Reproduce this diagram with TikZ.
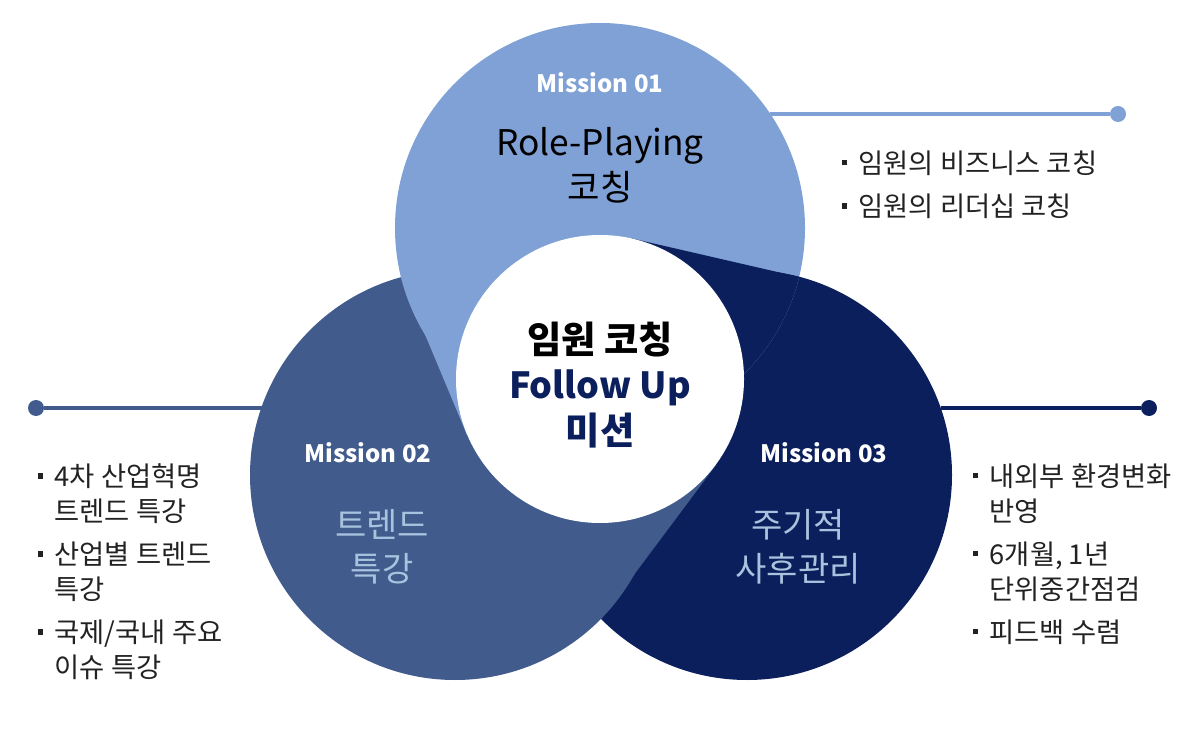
\documentclass[tikz,border=0pt]{standalone}
\usepackage{fontspec}
\setmainfont{Noto Sans CJK KR}
\usepackage{xcolor}
\usepackage{tikz}
\usetikzlibrary{positioning}

\definecolor{lightblue}{HTML}{7FA1D5}
\definecolor{midblue}{HTML}{405B8C}
\definecolor{navyblue}{HTML}{0B1F5C}
\definecolor{sublabel}{HTML}{A9C2DE}
\definecolor{bodytext}{HTML}{222222}

\newcommand{\bul}{\makebox[12.5pt][l]{\rule[0.3em]{4pt}{4pt}}}
\newcommand{\ind}{\hspace*{12.5pt}}

\begin{document}
\begin{tikzpicture}[
    x=0.75pt, y=-0.75pt,
    every node/.style={inner sep=0pt, outer sep=0pt},
    mission/.style={font=\fontsize{18}{22}\selectfont\bfseries, text=white},
    title/.style={font=\fontsize{26.5}{34}\selectfont, align=center, text=black},
    core/.style={font=\fontsize{28}{34}\selectfont\bfseries, align=center},
    sub/.style={font=\fontsize{25.5}{33}\selectfont, align=center, text=sublabel},
    blist/.style={font=\fontsize{20.5}{26}\selectfont, align=left, text=bodytext, anchor=north west},
    lead/.style={line width=2.3pt},
    dot/.style={circle, minimum size=12pt}
]
\useasboundingbox (0,0) rectangle (1201,730);

% centres, outer meeting points, tangent points on the core
\coordinate (ctop)   at (600,228);
\coordinate (cleft)  at (455,475);
\coordinate (cright) at (747,475);
\coordinate (ccore)  at (600,379);
\coordinate (xtl) at (401,277);  \coordinate (ttl) at (467,435);
\coordinate (xtr) at (799,277);  \coordinate (ttr) at (632,238.5);
\coordinate (xlr) at (601,619);  \coordinate (tlr) at (716,465);

\fill[navyblue]  (cright) circle[radius=205];
\fill[midblue]   (cleft)  circle[radius=205];
\fill[lightblue] (ctop)   circle[radius=205];
\begin{scope}
  \clip (ctop) circle[radius=205];
  \fill[navyblue] (cright) circle[radius=205];
\end{scope}
\fill[lightblue] (xtl) -- (ttl) -- (ccore) -- cycle;
\fill[navyblue]  (xtr) -- (ttr) -- (ccore) -- cycle;
\fill[midblue]   (xlr) -- (tlr) -- (ccore) -- cycle;
\fill[white] (ccore) circle[radius=144];

% callouts
\coordinate (etop)   at (770,114);
\coordinate (eleft)  at (262,408);
\coordinate (eright) at (941,408);
\node[dot, fill=lightblue] (dtop)   at (1118,114) {};
\node[dot, fill=midblue]   (dleft)  at (36,408)   {};
\node[dot, fill=navyblue]  (dright) at (1149,408) {};
\draw[lead, lightblue] (etop)   -- (dtop);
\draw[lead, midblue]   (eleft)  -- (dleft);
\draw[lead, navyblue]  (eright) -- (dright);

\node[mission] (m1) at (600,83)  {Mission 01};
\node[mission] (m2) at (368,453) {Mission 02};
\node[mission] (m3) at (824,453) {Mission 03};
\node[title] (name1) at (600,165) {Role-Playing\\코칭};
\node[sub]   (name2) at (382,547) {트렌드\\특강};
\node[sub]   (name3) at (798,547) {주기적\\사후관리};
\node[core]  (goal)  at (600,385)
  {임원 코칭\\{\color{navyblue}\fontsize{27}{34}\selectfont Follow Up}\\{\color{navyblue}미션}};

\node[blist] (list1) at (842,151)
  {\bul 임원의 비즈니스 코칭\\[6.5pt]\bul 임원의 리더십 코칭};
\node[blist] (list2) at (38,464)
  {\bul 4차 산업혁명\\\ind 트렌드 특강\\[6.5pt]\bul 산업별 트렌드\\\ind 특강\\[6.5pt]\bul 국제/국내 주요\\\ind 이슈 특강};
\node[blist] (list3) at (973,464)
  {\bul 내외부 환경변화\\\ind 반영\\[6.5pt]\bul 6개월, 1년\\\ind 단위중간점검\\[6.5pt]\bul 피드백 수렴};
\end{tikzpicture}
\end{document}
